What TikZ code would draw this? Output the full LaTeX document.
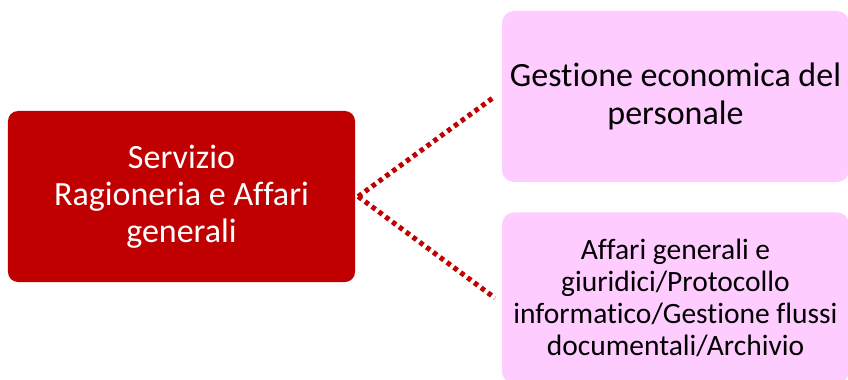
\documentclass[tikz,border=0pt]{standalone}
\usepackage{fontspec}
\setmainfont{Carlito}[Ligatures=NoCommon]
\usetikzlibrary{positioning}

\begin{document}
\begin{tikzpicture}[
    x=1bp, y=1bp,
    node distance=30bp,
    mainbox/.style={
        rectangle,
        draw=none,
        rounded corners=10bp,
        minimum height=171bp,
        minimum width=347bp,
        align=center,
        inner sep=0pt,
        text=white,
        font=\fontsize{34bp}{37bp}\selectfont
    },
    subbox/.style={
        rectangle,
        draw=none,
        rounded corners=12bp,
        minimum height=171bp,
        minimum width=347bp,
        align=center,
        inner sep=0pt
    },
    link/.style={
        line width=5bp,
        dash pattern=on 4.5bp off 4bp,
        draw=ragred
    }
]
% Color definitions
\definecolor{ragred}{RGB}{192,0,0}
\definecolor{subpink}{RGB}{255,204,255}

\useasboundingbox (0,0) rectangle (848,379);

% Nodes
\node[mainbox, fill=ragred] (ragioneria) at (181.5,182.5) {Servizio\\Ragioneria e Affari\\generali};
\node[subbox, fill=subpink, font=\fontsize{34bp}{38bp}\selectfont] (economica) at (675.5,282.5) {Gestione economica del\\personale};
\node[subbox, fill=subpink, font=\fontsize{29.5bp}{32bp}\selectfont, below=of economica] (affari) {Affari generali e\\giuridici/Protocollo\\informatico/Gestione flussi\\documentali/Archivio};

% Links
\draw[link] ([xshift=3bp]ragioneria.east) -- ([xshift=-7bp]economica.west);
\draw[link] ([xshift=3bp]ragioneria.east) -- ([xshift=-7bp]affari.west);

\end{tikzpicture}
\end{document}
